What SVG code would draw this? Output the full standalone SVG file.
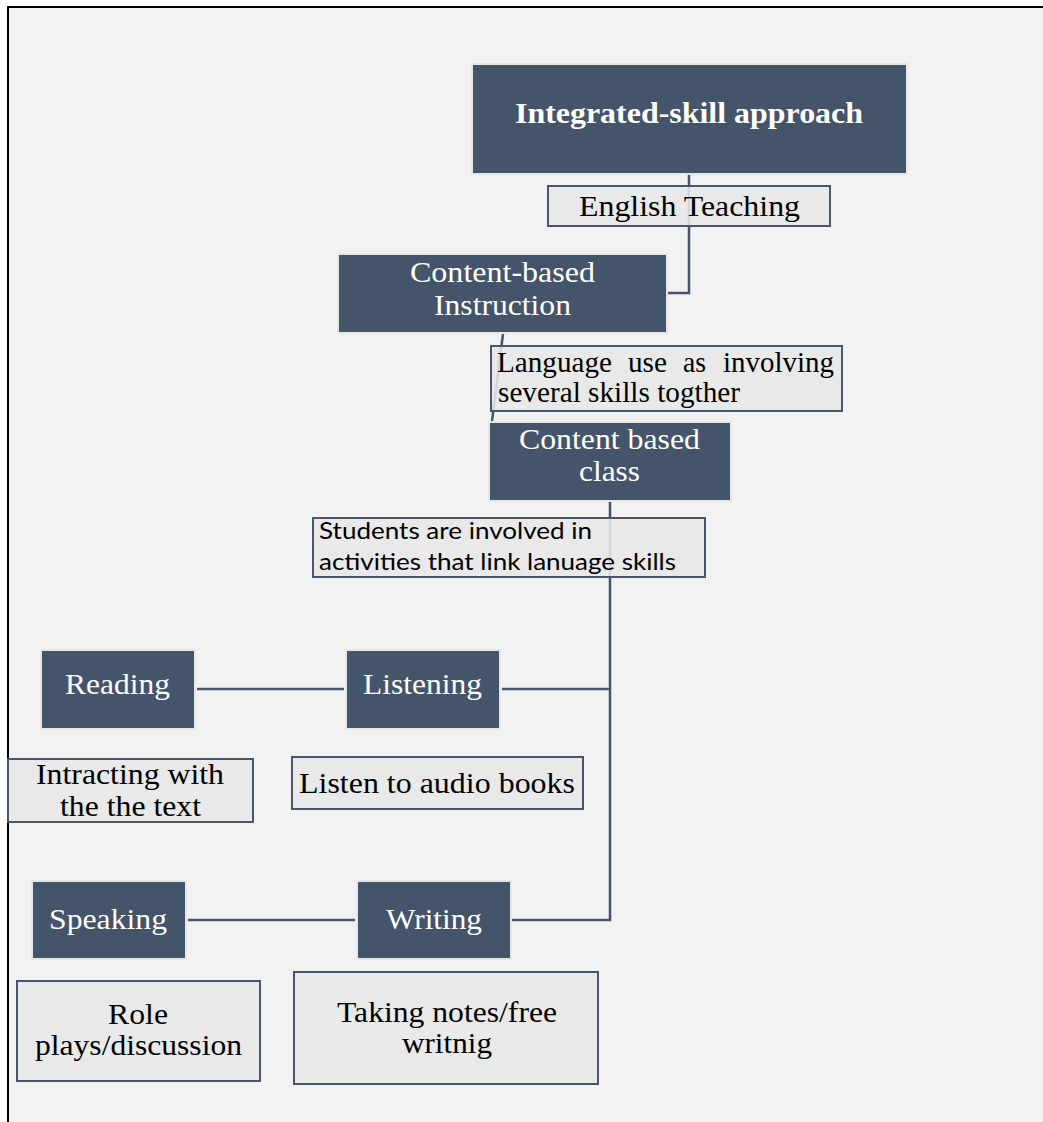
<svg xmlns="http://www.w3.org/2000/svg" width="1043" height="1122" viewBox="0 0 1043 1122">
  <style>
    .main { fill: #44546a; stroke: #e6e6e6; stroke-width: 2; }
    .note { fill: #e7e7e7; fill-opacity: 0.88; stroke: #475770; stroke-width: 2; }
    .link { fill: none; stroke: #44546a; stroke-width: 2.5; }
    .tw { font-family: "Liberation Serif", "Times New Roman", serif; font-size: 30px; fill: #ffffff; }
    .tb { font-family: "Liberation Serif", "Times New Roman", serif; font-size: 29px; fill: #000000; }
    .ts { font-family: Lato, "Liberation Sans", sans-serif; font-size: 23px; fill: #000000; }
  </style>

  <!-- page and frame -->
  <rect x="0" y="0" width="1043" height="1122" fill="#ffffff"/>
  <rect x="8" y="7" width="1040" height="1120" fill="#f2f2f2" stroke="#000000" stroke-width="2"/>

  <!-- connectors -->
  <g id="connectors">
    <path class="link" d="M689,175 V293 H668"/>
    <path class="link" d="M503,334 L492,421"/>
    <path class="link" d="M610,502 V920 H512"/>
    <path class="link" d="M502,689 H610"/>
    <path class="link" d="M197,689 H344"/>
    <path class="link" d="M188,920 H355"/>
  </g>

  <g id="integrated">
    <rect class="main" x="472" y="64" width="435" height="110"/>
    <text class="tw" x="515" y="123" font-weight="bold" textLength="348" lengthAdjust="spacingAndGlyphs">Integrated-skill approach</text>
  </g>

  <g id="english-teaching">
    <rect class="note" x="548" y="186" width="282" height="40"/>
    <text class="tb" x="579" y="216" textLength="221" lengthAdjust="spacingAndGlyphs">English Teaching</text>
  </g>

  <g id="content-based-instruction">
    <rect class="main" x="338" y="254" width="329" height="79"/>
    <text class="tw" x="410" y="282" textLength="185" lengthAdjust="spacingAndGlyphs">Content-based</text>
    <text class="tw" x="434" y="315" textLength="137" lengthAdjust="spacingAndGlyphs">Instruction</text>
  </g>

  <g id="language-use">
    <rect class="note" x="491" y="346" width="351" height="65"/>
    <text class="tb" y="372">
      <tspan x="497" textLength="115" lengthAdjust="spacingAndGlyphs">Language</tspan>
      <tspan x="628" textLength="39" lengthAdjust="spacingAndGlyphs">use</tspan>
      <tspan x="683" textLength="23" lengthAdjust="spacingAndGlyphs">as</tspan>
      <tspan x="723" textLength="111" lengthAdjust="spacingAndGlyphs">involving</tspan>
    </text>
    <text class="tb" x="498" y="402" textLength="242" lengthAdjust="spacingAndGlyphs">several skills togther</text>
  </g>

  <g id="content-based-class">
    <rect class="main" x="489" y="422" width="242" height="79"/>
    <text class="tw" x="519" y="449" textLength="181" lengthAdjust="spacingAndGlyphs">Content based</text>
    <text class="tw" x="579" y="481" textLength="61" lengthAdjust="spacingAndGlyphs">class</text>
  </g>

  <g id="students">
    <rect class="note" x="313" y="518" width="392" height="59"/>
    <text class="ts" x="319" y="539" textLength="273" lengthAdjust="spacingAndGlyphs">Students are involved in</text>
    <text class="ts" x="319" y="570" textLength="357" lengthAdjust="spacingAndGlyphs">activities that link lanuage skills</text>
  </g>

  <g id="reading">
    <rect class="main" x="41" y="650" width="154" height="79"/>
    <text class="tw" x="65" y="694" textLength="105" lengthAdjust="spacingAndGlyphs">Reading</text>
  </g>

  <g id="listening">
    <rect class="main" x="346" y="650" width="154" height="79"/>
    <text class="tw" x="363" y="694" textLength="119" lengthAdjust="spacingAndGlyphs">Listening</text>
  </g>

  <g id="reading-note">
    <rect class="note" x="8" y="759" width="245" height="63"/>
    <text class="tb" x="36" y="784" textLength="188" lengthAdjust="spacingAndGlyphs">Intracting with</text>
    <text class="tb" x="60" y="816" textLength="141" lengthAdjust="spacingAndGlyphs">the the text</text>
  </g>

  <g id="listening-note">
    <rect class="note" x="292" y="757" width="291" height="52"/>
    <text class="tb" x="299" y="793" textLength="276" lengthAdjust="spacingAndGlyphs">Listen to audio books</text>
  </g>

  <g id="speaking">
    <rect class="main" x="32" y="881" width="154" height="78"/>
    <text class="tw" x="49" y="929" textLength="118" lengthAdjust="spacingAndGlyphs">Speaking</text>
  </g>

  <g id="writing">
    <rect class="main" x="357" y="881" width="154" height="78"/>
    <text class="tw" x="386" y="929" textLength="96" lengthAdjust="spacingAndGlyphs">Writing</text>
  </g>

  <g id="speaking-note">
    <rect class="note" x="17" y="981" width="243" height="100"/>
    <text class="tb" x="108" y="1024" textLength="60" lengthAdjust="spacingAndGlyphs">Role</text>
    <text class="tb" x="35" y="1055" textLength="207" lengthAdjust="spacingAndGlyphs">plays/discussion</text>
  </g>

  <g id="writing-note">
    <rect class="note" x="294" y="972" width="304" height="112"/>
    <text class="tb" x="337" y="1022" textLength="220" lengthAdjust="spacingAndGlyphs">Taking notes/free</text>
    <text class="tb" x="402" y="1053" textLength="90" lengthAdjust="spacingAndGlyphs">writnig</text>
  </g>
</svg>
